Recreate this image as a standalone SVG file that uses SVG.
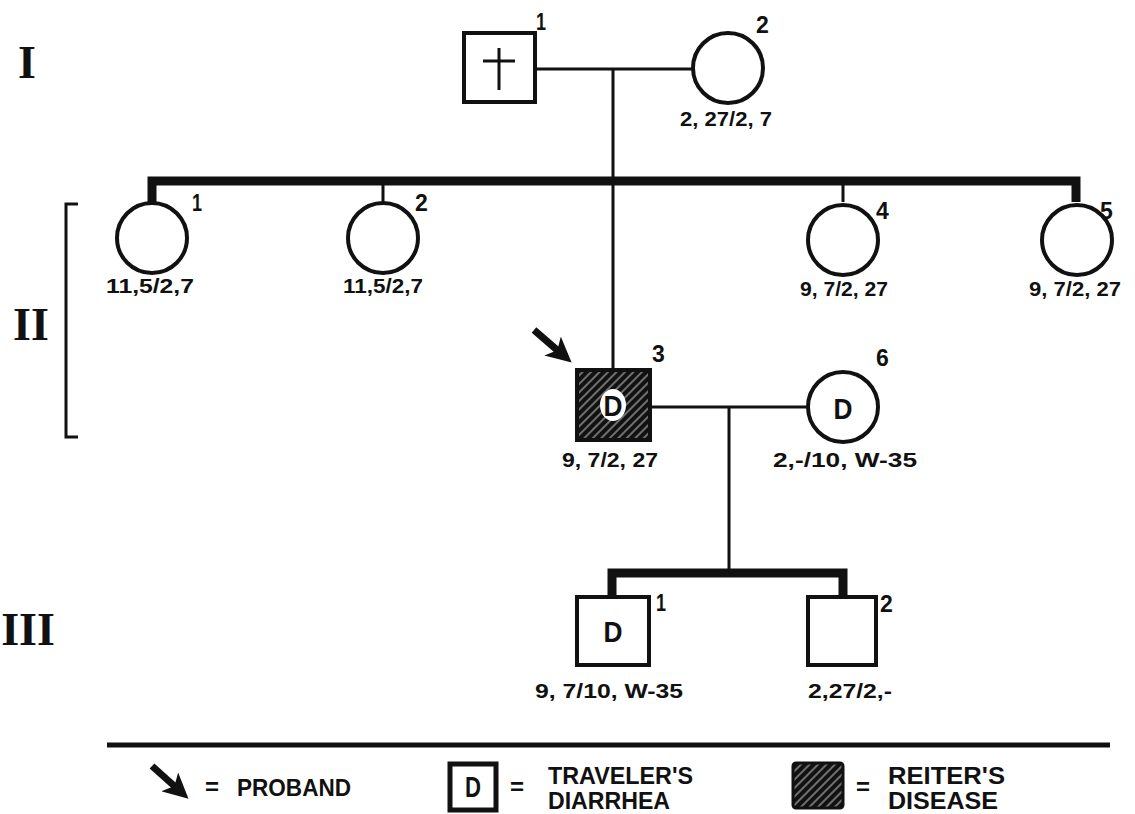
<svg xmlns="http://www.w3.org/2000/svg" width="1135" height="814" viewBox="0 0 1135 814">
<defs>
<pattern id="hatch" patternUnits="userSpaceOnUse" width="6" height="6" patternTransform="rotate(45)">
<rect width="6" height="6" fill="#111"/>
<rect x="2.6" width="0.8" height="6" fill="#fff"/>
</pattern>
<marker id="ah" viewBox="0 0 10 10" refX="6" refY="5" markerWidth="3.6" markerHeight="3.6" orient="auto" markerUnits="strokeWidth">
<path d="M0,0 L10,5 L0,10 L2.5,5 Z" fill="#111"/>
</marker>
</defs>
<style>
.ln{stroke:#111;stroke-width:3;fill:none}
.sib{stroke:#111;stroke-width:9;fill:none;stroke-linejoin:miter}
.nd{stroke:#111;stroke-width:4;fill:#fff}
.lbl{font-family:"Liberation Sans",Arial,sans-serif;font-weight:bold;font-size:21px;fill:#111;text-anchor:middle}
.num{font-family:"Liberation Sans",Arial,sans-serif;font-weight:bold;font-size:23px;fill:#111}
.big{font-family:"Liberation Sans",Arial,sans-serif;font-weight:bold;font-size:30px;fill:#111;text-anchor:middle}
.rom{font-family:"Liberation Serif","Times New Roman",serif;font-weight:bold;font-size:46px;fill:#111;text-anchor:middle}
.leg{font-family:"Liberation Sans",Arial,sans-serif;font-weight:bold;font-size:24px;fill:#111}
.arr{stroke:#111;stroke-width:7;fill:none}
</style>
<rect width="1135" height="814" fill="#fff"/>

<g id="generations">
<text class="rom" x="27" y="78">I</text>
<text class="rom" x="31" y="340">II</text>
<text class="rom" x="28" y="645">III</text>
<path class="ln" d="M78,204 H66 V437 H78"/>
</g>

<g id="connectors">
<path class="ln" d="M535,69 H692"/>
<path class="ln" d="M613,69 V370"/>
<path class="sib" d="M152,202 V181 H1076 V202"/>
<path class="ln" d="M383,181 V202"/>
<path class="ln" d="M843,181 V202"/>
<path class="ln" d="M650,407 H807"/>
<path class="ln" d="M729,407 V573"/>
<path class="sib" d="M612,597 V573 H843 V597"/>
</g>

<g id="I-1">
<rect class="nd" x="464" y="33" width="71" height="69"/>
<path class="ln" stroke-width="4" d="M499,48 V90 M483,61 H515"/>
<text class="num" x="536" y="30" textLength="10" lengthAdjust="spacingAndGlyphs">1</text>
</g>
<g id="I-2">
<circle class="nd" cx="728" cy="68" r="35"/>
<text class="num" x="756" y="33">2</text>
<text class="lbl" x="726" y="126" textLength="92" lengthAdjust="spacingAndGlyphs">2, 27/2, 7</text>
</g>

<g id="II-1">
<circle class="nd" cx="152" cy="238" r="35"/>
<text class="num" x="192" y="211" textLength="10" lengthAdjust="spacingAndGlyphs">1</text>
<text class="lbl" x="150" y="293" textLength="88" lengthAdjust="spacingAndGlyphs">11,5/2,7</text>
</g>
<g id="II-2">
<circle class="nd" cx="383" cy="238" r="35"/>
<text class="num" x="415" y="211">2</text>
<text class="lbl" x="383" y="293" textLength="80" lengthAdjust="spacingAndGlyphs">11,5/2,7</text>
</g>
<g id="II-3">
<rect x="577" y="370" width="73" height="70" fill="url(#hatch)" stroke="#111" stroke-width="4"/>
<ellipse cx="613" cy="405" rx="13" ry="16" fill="#fff"/>
<text class="big" x="613" y="416" textLength="19" lengthAdjust="spacingAndGlyphs">D</text>
<text class="num" x="652" y="362">3</text>
<text class="lbl" x="610" y="467" textLength="96" lengthAdjust="spacingAndGlyphs">9, 7/2, 27</text>
<path class="arr" d="M534,330 L564,356" marker-end="url(#ah)"/>
</g>
<g id="II-4">
<circle class="nd" cx="843" cy="240" r="35"/>
<text class="num" x="876" y="219">4</text>
<text class="lbl" x="844" y="296" textLength="88" lengthAdjust="spacingAndGlyphs">9, 7/2, 27</text>
</g>
<g id="II-5">
<circle class="nd" cx="1077" cy="240" r="35"/>
<text class="num" x="1100" y="219">5</text>
<text class="lbl" x="1075" y="296" textLength="92" lengthAdjust="spacingAndGlyphs">9, 7/2, 27</text>
</g>
<g id="II-6">
<circle class="nd" cx="843" cy="407" r="35"/>
<text class="big" x="843" y="419" textLength="19" lengthAdjust="spacingAndGlyphs">D</text>
<text class="num" x="876" y="366">6</text>
<text class="lbl" x="845" y="467" textLength="144" lengthAdjust="spacingAndGlyphs">2,-/10, W-35</text>
</g>

<g id="III-1">
<rect class="nd" x="577" y="597" width="72" height="68"/>
<text class="big" x="613" y="642" textLength="19" lengthAdjust="spacingAndGlyphs">D</text>
<text class="num" x="656" y="611" textLength="10" lengthAdjust="spacingAndGlyphs">1</text>
<text class="lbl" x="609" y="698" textLength="148" lengthAdjust="spacingAndGlyphs">9, 7/10, W-35</text>
</g>
<g id="III-2">
<rect class="nd" x="808" y="597" width="68" height="68"/>
<text class="num" x="880" y="612">2</text>
<text class="lbl" x="850" y="698" textLength="84" lengthAdjust="spacingAndGlyphs">2,27/2,-</text>
</g>

<g id="legend">
<path d="M107,745 H1110" stroke="#111" stroke-width="5"/>
<path class="arr" d="M152,766 L181,792" marker-end="url(#ah)"/>
<text class="leg" x="205" y="795">=</text>
<text class="leg" x="237" y="796" textLength="114" lengthAdjust="spacingAndGlyphs">PROBAND</text>
<rect x="450" y="764" width="46" height="46" fill="#fff" stroke="#111" stroke-width="5"/>
<text class="big" x="473" y="797" font-size="26" textLength="16" lengthAdjust="spacingAndGlyphs">D</text>
<text class="leg" x="510" y="795">=</text>
<text class="leg" x="548" y="784" textLength="145" lengthAdjust="spacingAndGlyphs">TRAVELER'S</text>
<text class="leg" x="548" y="809" textLength="122" lengthAdjust="spacingAndGlyphs">DIARRHEA</text>
<rect x="793" y="763" width="50" height="45" rx="3" fill="url(#hatch)" stroke="#111" stroke-width="3"/>
<text class="leg" x="856" y="795">=</text>
<text class="leg" x="888" y="784" textLength="117" lengthAdjust="spacingAndGlyphs">REITER'S</text>
<text class="leg" x="888" y="809" textLength="110" lengthAdjust="spacingAndGlyphs">DISEASE</text>
</g>
</svg>
